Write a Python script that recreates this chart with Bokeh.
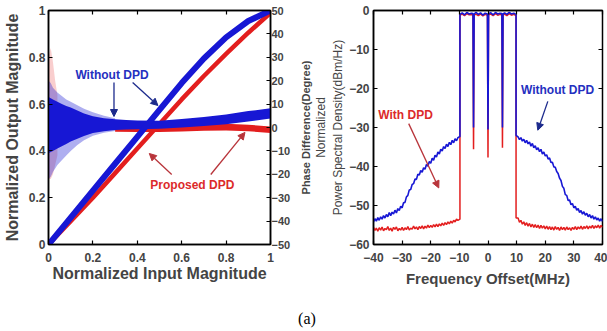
from bokeh.plotting import figure
from bokeh.models import Range1d, LinearAxis, FixedTicker, Arrow, NormalHead, Label, Div
from bokeh.layouts import row, column
from bokeh.embed import file_html
from bokeh.resources import INLINE

# ---------------- data: left panel (AM/AM and AM/PM) ----------------
amam_x = [0, 0.1, 0.2, 0.3, 0.4, 0.5, 0.6, 0.7, 0.8, 0.9, 1.0]
amam_blue = [0, 0.115, 0.23, 0.345, 0.46, 0.575, 0.69, 0.795, 0.885, 0.955, 1.0]
amam_red = [0, 0.1, 0.2, 0.305, 0.41, 0.515, 0.62, 0.72, 0.815, 0.905, 0.99]

ph_x = [0, 0.01, 0.02, 0.04, 0.06, 0.08, 0.1, 0.13, 0.16, 0.2, 0.25, 0.3, 0.35, 0.4, 0.5, 0.6, 0.7, 0.8, 0.9, 1.0]
blue_ph_hi = [13, 12.5, 12, 11, 10, 9.2, 8.5, 7.3, 6.0, 4.8, 4.0, 3.5, 3.2, 3.0, 2.9, 3.6, 4.5, 5.6, 7.0, 8.2]
blue_ph_lo = [-11, -10.5, -10, -9, -8, -7, -6, -4.8, -3.6, -2.4, -1.6, -1.1, -0.9, -0.7, -0.5, 0.0, 0.6, 1.4, 2.6, 3.8]

sp_x = [0, 0.01, 0.02, 0.04, 0.06, 0.08, 0.1, 0.13, 0.16, 0.2, 0.25, 0.3]
blue_sp_hi = [20, 19, 17, 15, 13.5, 12, 11, 9.5, 8, 6.5, 5.0, 4.0]
blue_sp_lo = [-22, -21, -19, -16, -14, -12, -10, -7.5, -5.5, -3.5, -2.2, -1.5]

red_sp_x = [0, 0.01, 0.02, 0.03, 0.04]
red_sp_hi = [30, 34, 28, 20, 14]
red_sp_lo = [-22, -22, -20, -16, -12]

red_ph_x = [0.3, 0.4, 0.5, 0.6, 0.7, 0.8, 0.9, 1.0]
red_ph_hi = [0.8, 0.8, 0.9, 1.2, 1.5, 1.6, 1.2, 0.4]
red_ph_lo = [-1.8, -1.9, -1.9, -1.7, -1.4, -1.3, -1.6, -2.3]

x_ticks = [0, 0.2, 0.4, 0.6, 0.8, 1.0]
x_tick_labels = ["0", "0.2", "0.4", "0.6", "0.8", "1"]
y_ticks = [0, 0.2, 0.4, 0.6, 0.8, 1.0]
y_tick_labels = ["0", "0.2", "0.4", "0.6", "0.8", "1"]
phase_ticks = [-50, -40, -30, -20, -10, 0, 10, 20, 30, 40, 50]
phase_label = "Phase Difference(Degree)"

left_text = ["Without DPD", "Proposed DPD"]
left_text_x = [0.286, 0.648]
left_text_y = [0.726, 0.256]
left_arrow_x0 = [0.295, 0.379, 0.555, 0.731]
left_arrow_y0 = [0.692, 0.692, 0.299, 0.299]
left_arrow_x1 = [0.295, 0.493, 0.454, 0.885]
left_arrow_y1 = [0.547, 0.594, 0.389, 0.479]

# ---------------- data: right panel (PSD) ----------------
f_left = [-40 + 0.5 * i for i in range(60)]
blue_left = [-54.2, -53.4, -54.0, -53.1, -53.8, -52.9, -53.5, -52.6, -53.2, -52.3,
             -52.9, -51.8, -52.6, -51.7, -52.2, -51.2, -51.9, -50.8, -51.3, -50.2,
             -50.6, -49.3, -49.2, -47.8, -47.4, -46.0, -45.9, -44.6, -44.4, -43.2,
             -43.3, -42.0, -42.2, -41.0, -41.5, -40.3, -40.7, -39.5, -39.9, -38.7,
             -39.2, -37.9, -38.4, -37.1, -37.6, -36.3, -36.8, -35.6, -36.0, -34.9,
             -35.4, -34.3, -34.9, -33.8, -34.4, -33.3, -33.9, -32.9, -33.4, -32.6]
red_left = [-55.6, -56.4, -55.8, -56.6, -55.7, -56.3, -55.5, -56.5, -55.9, -56.2,
            -55.4, -56.4, -55.8, -56.6, -55.6, -56.1, -55.5, -56.5, -55.9, -56.3,
            -55.6, -56.4, -55.7, -56.2, -55.4, -56.3, -55.8, -56.1, -55.3, -56.0,
            -55.5, -56.2, -55.4, -55.9, -55.2, -56.0, -55.3, -55.8, -55.0, -55.7,
            -55.1, -55.6, -54.9, -55.5, -54.8, -55.4, -54.7, -55.2, -54.5, -55.1,
            -54.4, -54.9, -54.2, -54.7, -54.0, -54.5, -53.8, -54.2, -53.5, -53.8]

f_band = [-9.8, -9.8, -9.0, -8.2, -7.4, -6.6, -5.8, -5.25, -5.05, -4.85, -4.2,
          -3.4, -2.6, -1.8, -1.0, -0.2, 0.0, 0.2, 1.0, 1.8, 2.6, 3.4, 4.2, 4.85,
          5.05, 5.25, 5.8, 6.6, 7.4, 8.2, 9.0, 9.8, 9.8]
blue_band = [-32.3, -1.0, -0.6, -1.1, -0.5, -0.9, -0.7, -0.8, -30.0, -0.9, -0.5,
             -1.0, -0.6, -1.2, -0.7, -0.9, -30.5, -0.8, -0.6, -1.1, -0.5, -0.9, -0.7, -0.8,
             -30.0, -0.9, -0.6, -1.0, -0.5, -0.9, -0.7, -1.0, -32.0]
red_band = [-53.5, -1.2, -0.9, -1.3, -0.8, -1.1, -1.0, -1.1, -35.6, -1.2, -0.9,
            -1.3, -0.9, -1.4, -1.0, -1.2, -37.7, -1.1, -0.9, -1.3, -0.8, -1.2, -1.0, -1.1,
            -35.2, -1.2, -0.9, -1.3, -0.8, -1.2, -1.0, -1.3, -53.2]

f_right = [10.5 + 0.5 * i for i in range(60)]
blue_right = [-32.4, -33.1, -32.6, -33.5, -33.0, -33.9, -33.3, -34.2, -33.7, -34.8,
              -34.1, -35.2, -34.7, -35.7, -35.2, -36.2, -35.6, -36.8, -36.3, -37.3,
              -37.0, -38.1, -37.8, -39.0, -38.9, -40.1, -40.2, -41.3, -41.8, -43.0,
              -43.6, -45.1, -45.6, -47.2, -47.4, -48.7, -48.6, -49.8, -49.5, -50.6,
              -50.2, -51.2, -50.8, -51.8, -51.3, -52.2, -51.6, -52.5, -52.0, -52.9,
              -52.3, -53.2, -52.6, -53.5, -52.9, -53.7, -53.2, -54.0, -53.4, -54.1]
red_right = [-53.2, -54.3, -53.8, -54.8, -54.2, -55.1, -54.4, -55.3, -54.6, -55.5,
             -54.8, -55.6, -54.9, -55.7, -55.0, -55.9, -55.1, -55.8, -55.2, -56.0,
             -55.3, -56.1, -55.4, -56.2, -55.5, -56.3, -55.4, -56.1, -55.6, -56.4,
             -55.5, -56.2, -55.6, -56.3, -55.5, -56.2, -55.7, -56.4, -55.6, -56.1,
             -55.4, -56.2, -55.5, -56.0, -55.3, -56.1, -55.4, -55.9, -55.2, -56.0,
             -55.3, -55.8, -55.1, -55.9, -55.2, -55.7, -55.0, -55.8, -55.1, -55.6]

f_ticks = [-40, -30, -20, -10, 0, 10, 20, 30, 40]
psd_ticks = [-60, -50, -40, -30, -20, -10, 0]

right_text = ["Without DPD", "With DPD"]
right_text_x = [24.3, -28.8]
right_text_y = [-20.3, -26.9]
right_arrow_x0 = [20.9, -27.7]
right_arrow_y0 = [-23.3, -29.0]
right_arrow_x1 = [17.4, -17.2]
right_arrow_y1 = [-30.7, -45.5]

# ---------------- styling ----------------
FONT = "Liberation Sans"
BLUE = "#1717d4"
RED = "#e31e1e"
BLUE_TXT = "#2430c0"
RED_TXT = "#dc2a2a"
BLUE_ARW = "#1c2a8c"
RED_ARW = "#b8343a"
H = 302


def style_axis(ax, size="12px", standoff=3, labels=True):
    ax.major_tick_in = 4
    ax.major_tick_out = 0
    ax.minor_tick_line_color = None
    ax.axis_line_color = "black"
    ax.axis_line_width = 1.5
    ax.major_tick_line_width = 1.2
    ax.major_label_text_font = FONT
    ax.major_label_text_font_style = "bold"
    ax.major_label_text_font_size = size if labels else "0px"
    ax.major_label_standoff = standoff if labels else 0
    if not labels:
        ax.major_label_text_alpha = 0


def base_fig(width, xr, yr, left, right):
    p = figure(width=width, height=H, x_range=xr, y_range=yr,
               output_backend="svg", toolbar_location=None,
               min_border_left=left, min_border_right=right,
               min_border_top=10, min_border_bottom=58)
    p.grid.visible = False
    p.outline_line_color = "black"
    p.outline_line_width = 1.5
    p.background_fill_color = "white"
    p.border_fill_color = "white"
    return p


# ---------------- left figure ----------------
p1 = base_fig(293, Range1d(0, 1), Range1d(0, 1), 47, 19)
p1.extra_y_ranges = {"phase": Range1d(-50, 50)}

# red first (behind)
p1.varea(x=red_sp_x, y1=red_sp_lo, y2=red_sp_hi, y_range_name="phase",
         fill_color=RED, fill_alpha=0.22)
p1.varea(x=red_ph_x, y1=red_ph_lo, y2=red_ph_hi, y_range_name="phase",
         fill_color=RED, fill_alpha=1.0)
p1.line(amam_x, amam_red, line_color=RED, line_width=4.5)
# blue
p1.varea(x=sp_x, y1=blue_sp_lo, y2=blue_sp_hi, y_range_name="phase",
         fill_color=BLUE, fill_alpha=0.35)
p1.varea(x=ph_x, y1=blue_ph_lo, y2=blue_ph_hi, y_range_name="phase",
         fill_color=BLUE, fill_alpha=1.0)
p1.line(amam_x, amam_blue, line_color=BLUE, line_width=6)

p1.xaxis.ticker = FixedTicker(ticks=x_ticks)
p1.xaxis.major_label_overrides = {t: s for t, s in zip(x_ticks, x_tick_labels)}
p1.yaxis.ticker = FixedTicker(ticks=y_ticks)
p1.yaxis.major_label_overrides = {t: s for t, s in zip(y_ticks, y_tick_labels)}
style_axis(p1.xaxis[0], "12px", 8)
style_axis(p1.yaxis[0], "12px", 3)
p1.xaxis.axis_label = "Normalized Input Magnitude"
p1.yaxis.axis_label = "Normalized Output Magnitude"
for ax in (p1.xaxis[0], p1.yaxis[0]):
    ax.axis_label_text_font = FONT
    ax.axis_label_text_font_style = "bold"
    ax.axis_label_text_font_size = "16px"
p1.xaxis.axis_label_standoff = 0
p1.yaxis.axis_label_standoff = 5

ax_r = LinearAxis(y_range_name="phase", ticker=FixedTicker(ticks=phase_ticks))
style_axis(ax_r, "11px", 1)
p1.add_layout(ax_r, "right")

ax_t = LinearAxis(ticker=FixedTicker(ticks=x_ticks))
style_axis(ax_t, labels=False)
p1.add_layout(ax_t, "above")

for t, x, y, c in zip(left_text, left_text_x, left_text_y, [BLUE_TXT, RED_TXT]):
    p1.add_layout(Label(x=x, y=y, text=t, text_align="center", text_baseline="middle",
                        text_font=FONT, text_font_style="bold", text_font_size="12px",
                        text_color=c))
for i in range(4):
    c = BLUE_ARW if i < 2 else RED_ARW
    p1.add_layout(Arrow(end=NormalHead(size=7, line_color=c, fill_color=c, line_width=1),
                        x_start=left_arrow_x0[i], y_start=left_arrow_y0[i],
                        x_end=left_arrow_x1[i], y_end=left_arrow_y1[i],
                        line_color=c, line_width=1.3))

# ---------------- right figure ----------------
p2 = base_fig(314, Range1d(-40, 40), Range1d(-60, 0), 80, 5)

f_all = f_left + f_band + f_right
p2.line(f_all, red_left + red_band + red_right, line_color=RED, line_width=1.5)
p2.line(f_all, blue_left + blue_band + blue_right, line_color=BLUE, line_width=1.6)

p2.xaxis.ticker = FixedTicker(ticks=f_ticks)
p2.yaxis.ticker = FixedTicker(ticks=psd_ticks)
style_axis(p2.xaxis[0], "12px", 8)
style_axis(p2.yaxis[0], "12px", 4)
p2.xaxis.axis_label = "Frequency Offset(MHz)"
p2.xaxis.axis_label_text_font = FONT
p2.xaxis.axis_label_text_font_style = "bold"
p2.xaxis.axis_label_text_font_size = "15px"
p2.xaxis.axis_label_standoff = 5
p2.yaxis.axis_label = "Normalized\nPower Spectral Density(dBm/Hz)"
p2.yaxis.axis_label_text_font = FONT
p2.yaxis.axis_label_text_font_style = "normal"
p2.yaxis.axis_label_text_font_size = "12px"
p2.yaxis.axis_label_standoff = 1

# the left chart's phase-axis title sits in the gap, drawn as a bare outer axis title
ax_ph = LinearAxis(ticker=FixedTicker(ticks=[]), axis_label=phase_label)
ax_ph.axis_line_color = None
ax_ph.major_tick_line_color = None
ax_ph.minor_tick_line_color = None
ax_ph.major_label_text_font_size = "0px"
ax_ph.major_label_standoff = 0
ax_ph.axis_label_standoff = 0
ax_ph.axis_label_text_font = FONT
ax_ph.axis_label_text_font_style = "bold"
ax_ph.axis_label_text_font_size = "11px"
p2.add_layout(ax_ph, "left")

ax_t2 = LinearAxis(ticker=FixedTicker(ticks=f_ticks))
style_axis(ax_t2, labels=False)
p2.add_layout(ax_t2, "above")
# inward ticks on the right edge
p2.segment(x0=[f_ticks[-1]] * len(psd_ticks), x1=[f_ticks[-1] - 1.4] * len(psd_ticks),
           y0=psd_ticks, y1=psd_ticks, line_color="black", line_width=1.2)

for t, x, y, c in zip(right_text, right_text_x, right_text_y, [BLUE_TXT, RED_TXT]):
    p2.add_layout(Label(x=x, y=y, text=t, text_align="center", text_baseline="middle",
                        text_font=FONT, text_font_style="bold", text_font_size="12px",
                        text_color=c))
for i in range(2):
    c = BLUE_ARW if i == 0 else RED_ARW
    p2.add_layout(Arrow(end=NormalHead(size=7, line_color=c, fill_color=c, line_width=1),
                        x_start=right_arrow_x0[i], y_start=right_arrow_y0[i],
                        x_end=right_arrow_x1[i], y_end=right_arrow_y1[i],
                        line_color=c, line_width=1.3))

caption = Div(text="(a)", width=607, height=20,
              styles={"text-align": "center", "font-family": "Liberation Serif",
                      "font-size": "16px", "line-height": "16px",
                      "padding-top": "4px", "padding-right": "3px", "color": "black"})

layout = column(row(p1, p2), caption)
open("out.html", "w").write(file_html(layout, INLINE))
